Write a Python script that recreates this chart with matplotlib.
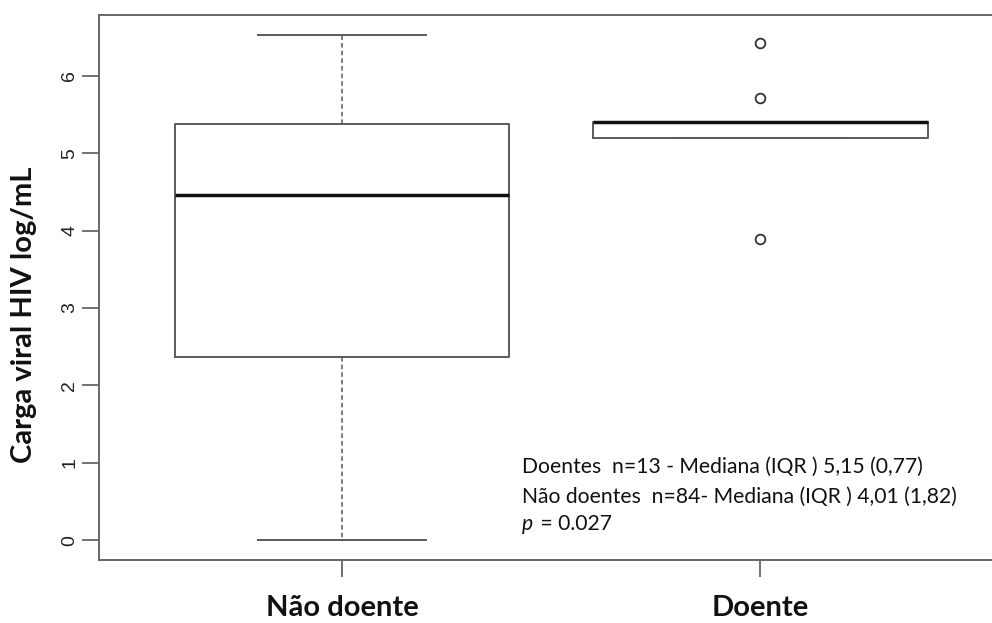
import matplotlib
matplotlib.use("Agg")
import matplotlib.pyplot as plt

# viral load by group (log copies/mL), summary stats as drawn by R's boxplot
groups = ["Não doente", "Doente"]
medians = [4.46, 5.40]
q1 = [2.37, 5.20]
q3 = [5.37, 5.40]
whisker_lo = [0.0, 5.20]
whisker_hi = [6.52, 5.40]
outliers = [[], [6.42, 5.71, 3.89]]

notes = [
    "Doentes  n=13 - Mediana (IQR ) 5,15 (0,77)",
    "Não doentes  n=84- Mediana (IQR ) 4,01 (1,82)",
]
p_text = " = 0.027"

stats = []
for i in range(len(groups)):
    stats.append(dict(med=medians[i], q1=q1[i], q3=q3[i],
                      whislo=whisker_lo[i], whishi=whisker_hi[i],
                      fliers=outliers[i], label=groups[i]))

fig = plt.figure(figsize=(9.92, 6.23), dpi=100)
ax = fig.add_axes([0.1001, 0.1006, 0.911, 0.8748])

grey = "#5a5a5a"
ax.bxp(stats, positions=[1, 2], widths=0.8, patch_artist=False,
       boxprops=dict(color=grey, linewidth=1.4),
       medianprops=dict(color="#111111", linewidth=2.5, solid_capstyle="butt"),
       whiskerprops=dict(color=grey, linewidth=1.1, linestyle=(0, (3, 2))),
       capprops=dict(color=grey, linewidth=1.4),
       capwidths=0.4,
       flierprops=dict(marker="o", markersize=7, markerfacecolor="none",
                       markeredgecolor="#333333", markeredgewidth=1.3))

ax.set_xlim(0.42, 2.58)
ax.set_ylim(-0.26, 6.78)

for s in ax.spines.values():
    s.set_color("#666666")
    s.set_linewidth(1.4)

ax.set_yticks(range(0, 7))
ax.set_yticklabels([str(v) for v in range(0, 7)], rotation=90, va="center",
                   family="Liberation Sans", fontsize=14, color="#222222")
ax.tick_params(axis="y", length=12, width=1.3, color="#666666", pad=3)
ax.set_xticks([1, 2])
ax.set_xticklabels(groups, family="Lato", fontweight="bold", fontsize=21,
                   color="#111111")
ax.tick_params(axis="x", length=12, width=1.3, color="#666666", pad=13)

fig.text(0.024, 0.495, "Carga viral HIV log/mL", rotation=90, va="center",
         ha="center", family="Lato", fontweight="bold", fontsize=21,
         color="#111111")

tx = 1.431
fs = 15.2
for y, line in zip([0.95, 0.56], notes):
    ax.text(tx, y, line, family="Lato", fontsize=fs, va="center",
            ha="left", color="#111111")
ax.text(tx, 0.21, "p", family="Lato", fontstyle="italic", fontsize=fs,
        va="center", ha="left", color="#111111")
ax.annotate(p_text, xy=(tx, 0.21), xytext=(9, 0), textcoords="offset points",
            family="Lato", fontsize=fs, va="center", ha="left",
            color="#111111")

fig.savefig("out.png", dpi=100)
